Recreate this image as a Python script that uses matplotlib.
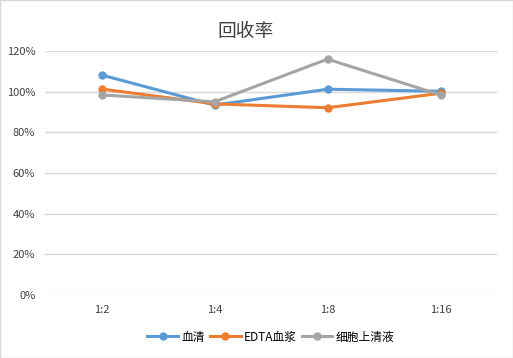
import matplotlib
matplotlib.use("Agg")
import matplotlib.pyplot as plt
from matplotlib.ticker import PercentFormatter

plt.rcParams["font.family"] = ["Noto Sans CJK SC", "DejaVu Sans"]

categories = ["1:2", "1:4", "1:8", "1:16"]
serum      = [108.2, 93.4, 101.2, 100.2]
edta       = [101.3, 94.0, 92.1, 99.2]
supernat   = [98.4, 95.0, 116.0, 98.4]

NOMES = ["血清", "EDTA血浆", "细胞上清液"]
CORES = ["#5B9BD5", "#ED7D31", "#A5A5A5"]

fig = plt.figure(figsize=(5.13, 3.58), dpi=100)
ax = fig.add_axes([45/513, 1 - 295/358, 452/513, 244/358])

x = list(range(len(categories)))
for vals, nome, cor in zip([serum, edta, supernat], NOMES, CORES):
    ax.plot(x, vals, color=cor, lw=2.2, marker="o", ms=5, label=nome)

ax.set_xlim(-0.5, len(categories) - 0.5)
ax.set_ylim(0, 120)
ax.set_yticks(range(0, 121, 20))
ax.yaxis.set_major_formatter(PercentFormatter(decimals=0))
ax.set_xticks(x)
ax.set_xticklabels(categories)
ax.tick_params(length=0, labelsize=8, colors="#404040", pad=7)
ax.grid(axis="y", color="#D9D9D9", lw=1)
ax.set_axisbelow(True)
for s in ax.spines.values():
    s.set_visible(False)

fig.text(246/513, 1 - 31/358, "回收率", ha="center", va="center", fontsize=13.5, color="#404040")

ax.legend(loc="center", bbox_to_anchor=(0.5, (295 - 337) / 244), ncol=3, frameon=False,
          fontsize=8.5, handlelength=2.6, handletextpad=0.3, columnspacing=0.4)

fig.patches.append(plt.Rectangle((0, 0), 1, 1, transform=fig.transFigure, fill=False,
                                 edgecolor="#D9D9D9", lw=1))

fig.savefig("out.png", dpi=100)
